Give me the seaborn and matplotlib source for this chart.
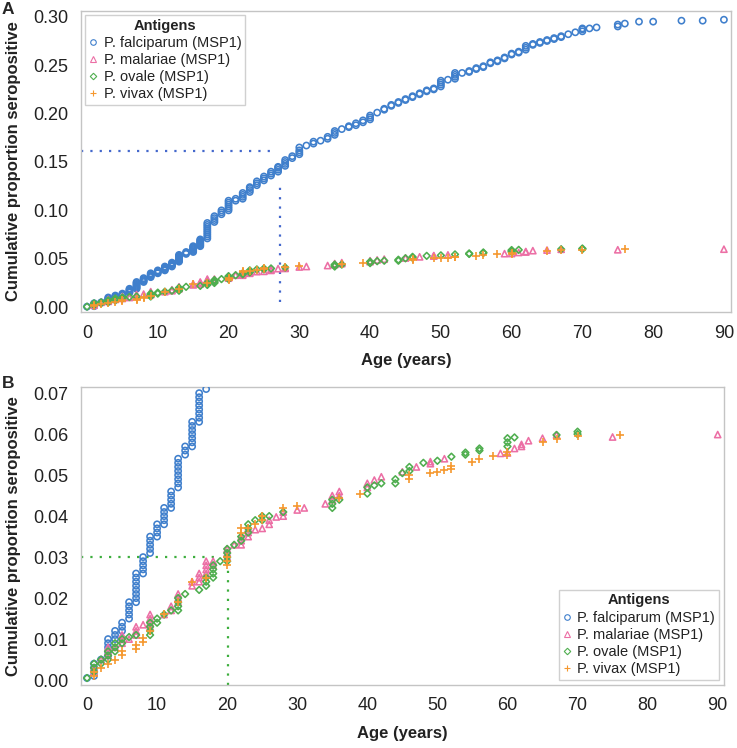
import numpy as np
import pandas as pd
import matplotlib
matplotlib.use("Agg")
import matplotlib.pyplot as plt
import seaborn as sns
from matplotlib.lines import Line2D
from matplotlib.ticker import FormatStrFormatter, MultipleLocator

# ---------------- data ----------------
species = ["P. falciparum (MSP1)", "P. malariae (MSP1)", "P. ovale (MSP1)", "P. vivax (MSP1)"]
colors = ["#3f7fcc", "#ec6fa5", "#4fae4f", "#f5982f"]
markers = ["o", "^", "D", "+"]

falc_ages = [0, 1, 2, 3, 4, 5, 6, 7, 8, 9, 10, 11, 12, 13, 14, 15, 16, 17, 18, 19, 20,
             21, 22, 23, 24, 25, 26, 27, 28, 29, 30, 31, 32, 33, 34, 35, 36, 37, 38, 39, 40,
             41, 42, 43, 44, 45, 46, 47, 48, 49, 50, 51, 52, 53, 54, 55, 56, 57, 58, 59, 60,
             61, 62, 63, 64, 65, 66, 67, 68, 69, 70, 71, 72, 75, 76, 78, 80, 84, 87, 90]
falc_props = [
    [0.0005], [0.001, 0.002, 0.003, 0.004], [0.005], [0.006, 0.007, 0.008, 0.009, 0.010],
    [0.010, 0.011, 0.012], [0.012, 0.013, 0.014], [0.015, 0.016, 0.017, 0.018, 0.019],
    [0.019, 0.020, 0.021, 0.022, 0.023, 0.024, 0.025, 0.026],
    [0.026, 0.027, 0.028, 0.029, 0.030], [0.031, 0.032, 0.033, 0.034, 0.035],
    [0.035, 0.036, 0.037, 0.038], [0.038, 0.039, 0.040, 0.041, 0.042],
    [0.042, 0.043, 0.044, 0.045, 0.046],
    [0.047, 0.048, 0.049, 0.050, 0.051, 0.052, 0.053, 0.054],
    [0.055, 0.056, 0.057], [0.057, 0.058, 0.059, 0.060, 0.061, 0.062, 0.063],
    [0.063, 0.064, 0.065, 0.066, 0.067, 0.068, 0.069, 0.070],
    [0.071, 0.073, 0.075, 0.077, 0.079, 0.081, 0.083, 0.085, 0.087],
    [0.088, 0.090, 0.092, 0.094], [0.096, 0.098, 0.100],
    [0.100, 0.102, 0.104, 0.106, 0.108, 0.110], [0.110, 0.112],
    [0.112, 0.114, 0.116, 0.118], [0.119, 0.121, 0.123, 0.124], [0.126, 0.128, 0.130],
    [0.131, 0.133, 0.135], [0.136, 0.138, 0.140], [0.140, 0.142, 0.144, 0.145],
    [0.146, 0.148, 0.150, 0.152], [0.154, 0.156], [0.158, 0.160, 0.162, 0.165],
    [0.167], [0.169, 0.171], [0.172], [0.174, 0.176], [0.178, 0.180, 0.182], [0.184],
    [0.186, 0.187], [0.188, 0.190], [0.191, 0.193], [0.194, 0.196, 0.198],
    [0.201], [0.204, 0.205], [0.208, 0.209], [0.211, 0.212], [0.214, 0.215], [0.217, 0.218],
    [0.220, 0.221], [0.223, 0.224], [0.225, 0.226], [0.228, 0.230, 0.232, 0.234], [0.235],
    [0.236, 0.238, 0.240, 0.242], [0.242], [0.243, 0.244], [0.246, 0.247], [0.248, 0.249],
    [0.252, 0.253], [0.254, 0.255], [0.257, 0.258], [0.261, 0.262], [0.263, 0.264],
    [0.266, 0.268, 0.270], [0.271, 0.272], [0.273, 0.274], [0.275, 0.276], [0.277, 0.278],
    [0.279, 0.280], [0.282], [0.284], [0.285, 0.287, 0.288], [0.288], [0.289],
    [0.290, 0.292], [0.293], [0.295], [0.295], [0.296], [0.296], [0.297]]

mal_ages = [1, 2, 3, 4, 5, 6, 7, 8, 9, 11, 12, 13, 15, 16, 17, 18, 20, 21, 22, 23, 24, 25,
            26, 27, 28, 30, 31, 34, 35, 36, 40, 41, 42, 45, 47, 49, 51, 59, 60, 61, 62,
            63, 65, 67, 75, 90]
mal_props = [
    [0.002, 0.003], [0.005], [0.006, 0.007, 0.008], [0.008], [0.009, 0.010, 0.011], [0.010],
    [0.011, 0.012, 0.013], [0.0135], [0.013, 0.014, 0.015, 0.016], [0.016], [0.017, 0.018],
    [0.019, 0.020, 0.021], [0.023, 0.024], [0.024, 0.025, 0.026], [0.026, 0.027, 0.028, 0.029],
    [0.028, 0.029], [0.030, 0.031, 0.032], [0.033], [0.033, 0.034, 0.035],
    [0.035, 0.036, 0.037], [0.0367], [0.037], [0.038, 0.039], [0.0398], [0.040, 0.041],
    [0.0415], [0.042], [0.043], [0.044, 0.045], [0.045, 0.046], [0.047, 0.048], [0.0488],
    [0.0496], [0.0508], [0.052], [0.0528, 0.0533], [0.054], [0.0553], [0.0554], [0.0565],
    [0.057, 0.0575], [0.0584], [0.059], [0.0598], [0.0593], [0.0599]]

ova_ages = [0, 1, 2, 3, 4, 5, 6, 7, 9, 10, 11, 12, 13, 14, 16, 17, 18, 19, 20, 21, 22, 23,
            24, 25, 26, 28, 35, 36, 40, 41, 42, 44, 45, 46, 48, 50, 52, 54, 56, 60, 61, 67, 70]
ova_props = [
    [0.0005], [0.002, 0.003, 0.004], [0.004, 0.005], [0.005, 0.006, 0.007],
    [0.007, 0.008, 0.009], [0.009, 0.010], [0.0105], [0.011], [0.011, 0.012, 0.013, 0.014],
    [0.014, 0.015], [0.016], [0.017], [0.017, 0.018, 0.019, 0.020], [0.021], [0.022],
    [0.023, 0.024, 0.025], [0.025, 0.026, 0.027, 0.028], [0.029], [0.029, 0.030, 0.031, 0.032],
    [0.033], [0.034, 0.035], [0.036, 0.037, 0.038], [0.039], [0.039, 0.040], [0.040],
    [0.041], [0.042, 0.043, 0.044], [0.044], [0.0455, 0.047], [0.0475], [0.048],
    [0.048, 0.049], [0.0505], [0.051, 0.052], [0.053], [0.0535], [0.0545], [0.055, 0.0555],
    [0.056, 0.0565], [0.057, 0.058, 0.059], [0.0592], [0.0598], [0.060, 0.0606]]

viv_ages = [1, 2, 3, 4, 5, 7, 8, 9, 11, 13, 15, 17, 20, 22, 23, 24, 25, 28, 30, 36, 39,
            46, 49, 50, 51, 52, 55, 56, 58, 60, 65, 67, 70, 76]
viv_props = [
    [0.001, 0.002], [0.003], [0.004], [0.005], [0.006, 0.007], [0.0075, 0.0085],
    [0.0093, 0.0102], [0.012], [0.016], [0.019], [0.024], [0.025], [0.028, 0.029, 0.030],
    [0.036, 0.037], [0.037], [0.038], [0.039, 0.040], [0.042], [0.0425], [0.0445],
    [0.0455], [0.049, 0.050], [0.0504], [0.0508], [0.0512], [0.0515, 0.0522], [0.0533],
    [0.054], [0.0546], [0.055, 0.0557], [0.0581], [0.0587], [0.0595], [0.0599]]

# reference (dotted) guide lines
ref_a_age, ref_a_prop = 27.3, 0.161
ref_b_age, ref_b_prop = 20.1, 0.030

# ---------------- build tidy table ----------------
def tidy(name, ages, props):
    rows = [(name, a, p) for a, ps in zip(ages, props) for p in ps]
    return pd.DataFrame(rows, columns=["antigen", "age", "prop"])

df = pd.concat([tidy(species[0], falc_ages, falc_props),
                tidy(species[1], mal_ages, mal_props),
                tidy(species[2], ova_ages, ova_props),
                tidy(species[3], viv_ages, viv_props)], ignore_index=True)

# ---------------- style ----------------
sns.set_style("white")
plt.rcParams["font.family"] = ["Liberation Sans", "DejaVu Sans"]

W, H = 737, 748
fig = plt.figure(figsize=(W / 100, H / 100), dpi=100)

def frac(l, t, r, b):
    return [l / W, 1 - b / H, (r - l) / W, (b - t) / H]

axA = fig.add_axes(frac(81, 11, 731, 312))
axB = fig.add_axes(frac(81, 387, 724, 685))

sizes = {"o": 20, "^": 20, "D": 12, "+": 28}

def draw(ax):
    for name, c, m in zip(species, colors, markers):
        sub = df[df["antigen"] == name]
        n_before = len(ax.collections)
        sns.scatterplot(data=sub, x="age", y="prop", marker=m, color=c,
                        s=sizes[m], linewidth=1.15 if m != "+" else 1.2,
                        ax=ax, legend=False, zorder=3, clip_on=True)
        coll = ax.collections[n_before]
        if m != "+":
            coll.set_facecolor("none")
            coll.set_edgecolor(c)

def style_axes(ax):
    for s in ax.spines.values():
        s.set_color("#c4c4c4")
        s.set_linewidth(1.0)
    ax.tick_params(axis="both", which="major", direction="out", length=5, width=1,
                   color="#a0a0a0", labelsize=13, labelcolor="#222222", pad=4)
    ax.xaxis.set_major_locator(MultipleLocator(10))
    ax.yaxis.set_major_formatter(FormatStrFormatter("%.2f"))
    ax.set_xlabel("Age (years)", fontsize=12, fontweight="bold", color="#222222")
    ax.set_ylabel("Cumulative proportion seropositive", fontsize=12,
                  fontweight="bold", color="#222222")
    ax.grid(False)

def legend(ax, loc, anchor):
    handles = [Line2D([], [], marker=m, linestyle="none", markersize=4 if m != "D" else 3.3,
                      markerfacecolor="none", markeredgecolor=c, markeredgewidth=0.8,
                      color=c) for c, m in zip(colors, markers)]
    leg = ax.legend(handles, species, title="Antigens", loc=loc, bbox_to_anchor=anchor,
                    borderaxespad=0, fontsize=10.5, frameon=True, fancybox=False,
                    framealpha=1, edgecolor="#d0d0d0", handlelength=0.65,
                    handletextpad=0.4, labelspacing=0.22, borderpad=0.25,
                    title_fontproperties={"weight": "bold", "size": 10.5})
    leg.get_frame().set_linewidth(1.0)
    for t in leg.get_texts():
        t.set_color("#222222")
    leg.get_title().set_color("#222222")
    leg.set_zorder(5)

# ---- panel A ----
draw(axA)
style_axes(axA)
axA.set_xlim(-0.85, 91)
axA.set_ylim(-0.005, 0.306)
axA.yaxis.set_major_locator(MultipleLocator(0.05))
xl = axA.get_xlim()[0]
axA.plot([xl, 26.3], [ref_a_prop, ref_a_prop], color="#4468cc",
         lw=1.6, linestyle=(0, (1, 3.2)), zorder=2)
axA.plot([ref_a_age, ref_a_age], [0.005, 0.13], color="#4468cc",
         lw=1.6, linestyle=(0, (1, 3.2)), zorder=2)
axA.xaxis.set_label_coords(0.5, -0.135)
axA.yaxis.set_label_coords(-0.092, 0.5)
legend(axA, "upper left", (0.006, 0.987))

# ---- panel B ----
draw(axB)
style_axes(axB)
axB.set_xlim(-0.86, 90.9)
axB.set_ylim(-0.0012, 0.0715)
axB.yaxis.set_major_locator(MultipleLocator(0.01))
xl = axB.get_xlim()[0]
axB.plot([xl, 18.7], [ref_b_prop, ref_b_prop], color="#3dae3d",
         lw=1.6, linestyle=(0, (1, 3.2)), zorder=2)
axB.plot([ref_b_age, ref_b_age], [-0.0012, 0.0275], color="#3dae3d",
         lw=1.6, linestyle=(0, (1, 3.2)), zorder=2)
axB.xaxis.set_label_coords(0.5, -0.137)
axB.yaxis.set_label_coords(-0.093, 0.5)
legend(axB, "lower right", (0.992, 0.017))

fig.text(2 / W, 1 - 9 / H, "A", fontsize=12.5, fontweight="bold", va="center", ha="left")
fig.text(2 / W, 1 - 383 / H, "B", fontsize=12.5, fontweight="bold", va="center", ha="left")

fig.savefig("out.png", dpi=100, facecolor="white")
